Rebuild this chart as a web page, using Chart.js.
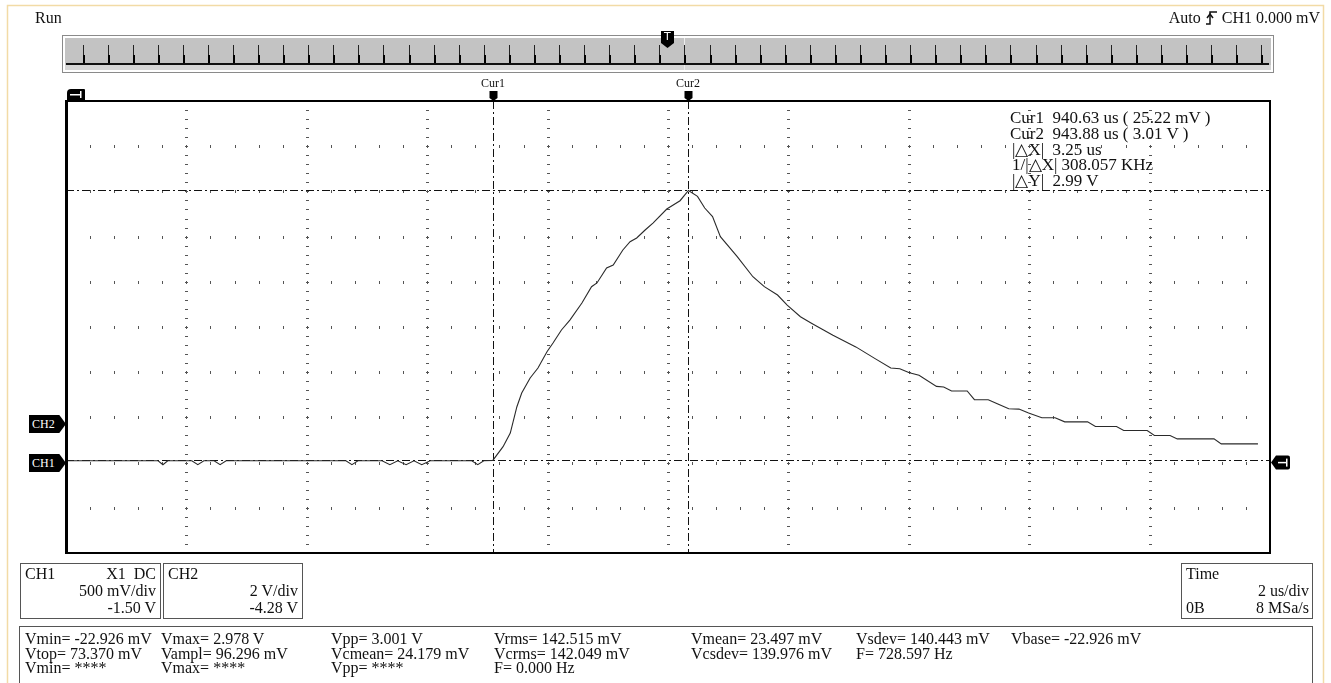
<!DOCTYPE html>
<html><head><meta charset="utf-8">
<script src="https://cdn.jsdelivr.net/npm/chart.js@4.4.0/dist/chart.umd.min.js"></script>
<style>
body{margin:0;background:#fff;}
#wrap{position:relative;width:1331px;height:683px;overflow:hidden;font-family:"Liberation Serif","Times New Roman",serif;color:#111;}
#c{position:absolute;left:0;top:0;}
.t{position:absolute;white-space:pre;font-size:16px;line-height:16px;z-index:2;}
.r{font-size:17px;}
.s{font-size:12px;line-height:12px;}
.box{position:absolute;border:1px solid #555;box-sizing:border-box;z-index:2;background:transparent;}
.tag{position:absolute;z-index:2;background:#000;color:#fff;font-size:12px;line-height:18px;height:18px;width:37px;padding-left:3px;box-sizing:border-box;clip-path:polygon(0 0,82% 0,100% 50%,82% 100%,0 100%);}
</style></head>
<body>
<div id="wrap">
<canvas id="c" width="1331" height="683"></canvas>
<div class="t" style="left:35px;top:10px;">Run</div>
<div class="t" style="right:11px;top:10px;">Auto <svg width="13" height="15" viewBox="0 0 13 15" style="vertical-align:-2px"><path d="M1 14 H5 V2 H12" fill="none" stroke="#111" stroke-width="1.5"/><path d="M2 8 L5 4 L8 8" fill="none" stroke="#111" stroke-width="1.5"/></svg> CH1 0.000 mV</div>
<div class="t" style="left:664px;top:31px;color:#fff;font-family:'DejaVu Sans',sans-serif;font-size:11px;line-height:12px;">T</div>
<div class="t s" style="left:493px;top:77px;transform:translateX(-50%);">Cur1</div>
<div class="t s" style="left:688px;top:77px;transform:translateX(-50%);">Cur2</div>
<div class="t r" style="left:1010px;top:110px;">Cur1  940.63 us ( 25.22 mV )</div>
<div class="t r" style="left:1010px;top:126px;">Cur2  943.88 us ( 3.01 V )</div>
<div class="t r" style="left:1012px;top:142px;">|△X|  3.25 us</div>
<div class="t r" style="left:1012px;top:157px;">1/|△X| 308.057 KHz</div>
<div class="t r" style="left:1012px;top:173px;">|△Y|  2.99 V</div>
<div class="tag" style="left:29px;top:415px;">CH2</div>
<div class="tag" style="left:29px;top:454px;">CH1</div>

<div class="box" style="left:20px;top:563px;width:141px;height:56px;">
 <div class="t" style="left:4px;top:2px;">CH1</div>
 <div class="t" style="right:4px;top:2px;">X1  DC</div>
 <div class="t" style="right:4px;top:19px;">500 mV/div</div>
 <div class="t" style="right:4px;top:36px;">-1.50 V</div>
</div>
<div class="box" style="left:163px;top:563px;width:140px;height:56px;">
 <div class="t" style="left:4px;top:2px;">CH2</div>
 <div class="t" style="right:4px;top:19px;">2 V/div</div>
 <div class="t" style="right:4px;top:36px;">-4.28 V</div>
</div>
<div class="box" style="left:1181px;top:563px;width:132px;height:56px;">
 <div class="t" style="left:4px;top:2px;">Time</div>
 <div class="t" style="right:3px;top:19px;">2 us/div</div>
 <div class="t" style="left:4px;top:36px;">0B</div>
 <div class="t" style="right:3px;top:36px;">8 MSa/s</div>
</div>
<div class="box" id="meas" style="left:19px;top:626px;width:1294px;height:80px;"></div>
</div>
<script>
// ---- data ----
const timeUs = [933.54,935.07,935.15,935.23,935.63,935.73,935.83,936.00,936.10,936.20,938.19,938.29,938.39,938.79,938.92,939.05,939.19,939.32,939.45,939.59,939.72,940.28,940.38,940.48,940.63,
 940.80,940.92,941.03,941.11,941.25,941.38,941.53,941.63,941.77,941.91,942.11,942.27,942.36,942.52,942.63,942.79,942.91,943.02,943.16,943.29,943.52,943.74,943.88,
 944.03,944.15,944.28,944.41,944.69,944.95,945.14,945.36,945.52,945.74,945.93,946.28,946.66,946.98,947.24,947.39,947.55,947.71,948.00,948.12,948.25,948.51,948.63,948.86,949.01,949.20,949.37,949.53,949.75,949.97,950.13,950.51,950.64,950.99,951.11,951.50,951.62,951.88,952.00,952.61,952.73,953.34];
const ch1Volts = [0.02,0.02,-0.023,0.02,0.02,-0.023,0.02,0.02,-0.023,0.02,0.02,-0.023,0.02,0.02,-0.023,0.02,-0.023,0.02,-0.023,0.02,0.02,0.02,-0.023,0.02,0.025,
 0.176,0.327,0.618,0.770,0.936,1.046,1.227,1.323,1.467,1.577,1.765,1.946,1.987,2.153,2.186,2.352,2.444,2.485,2.573,2.650,2.805,2.897,3.010,
 2.945,2.816,2.722,2.500,2.279,2.056,1.946,1.854,1.742,1.613,1.539,1.409,1.280,1.150,1.046,1.039,0.994,0.966,0.843,0.836,0.792,0.792,0.696,0.696,0.650,0.595,0.592,0.549,0.496,0.496,0.451,0.451,0.399,0.399,0.355,0.355,0.300,0.300,0.262,0.262,0.207,0.207];
const cursorTimes = [940.63, 943.88];
const cursorLevels = [0.02522, 3.01];
const triggerLevel = 0;
const xMin = 933.54, xDivUs = 2, xDivs = 10;
const yMin = -1.0, yDivV = 0.5, yDivs = 10;
const overviewTicks = 48;
const measRow1 = ["Vmin= -22.926 mV","Vmax= 2.978 V","Vpp= 3.001 V","Vrms= 142.515 mV","Vmean= 23.497 mV","Vsdev= 140.443 mV","Vbase= -22.926 mV"];
const measRow2 = ["Vtop= 73.370 mV","Vampl= 96.296 mV","Vcmean= 24.179 mV","Vcrms= 142.049 mV","Vcsdev= 139.976 mV","F= 728.597 Hz"];
const measRow3 = ["Vmin= ****","Vmax= ****","Vpp= ****","F= 0.000 Hz"];

// measurement text
const colX = [5,141,311,474,671,836,991];
const meas = document.getElementById('meas');
[measRow1,measRow2,measRow3].forEach((row,r)=>{
  row.forEach((txt,i)=>{
    const d=document.createElement('div'); d.className='t';
    d.style.left=colX[i]+'px'; d.style.top=(4+r*14.5)+'px'; d.textContent=txt; meas.appendChild(d);
  });
});

const scopePlugin = {
  id:'scope',
  beforeDraw(chart){
    const ctx=chart.ctx; ctx.save();
    ctx.fillStyle='#fff'; ctx.fillRect(0,0,chart.width,chart.height);
    ctx.strokeStyle='#f2dba6'; ctx.lineWidth=1.5; ctx.strokeRect(7.5,5.5,1316,700);
    // overview bar
    ctx.fillStyle='#ffffff'; ctx.fillRect(62,35,1212,38);
    ctx.strokeStyle='#8a8a8a'; ctx.lineWidth=1; ctx.strokeRect(62.5,35.5,1211,37);
    ctx.fillStyle='#c3c3c3'; ctx.fillRect(65,38,1206,32);
    ctx.fillStyle='#d6d6d6'; ctx.fillRect(65,65,1206,5);
    ctx.fillStyle='#ececec'; ctx.fillRect(684,38,1,32);
    ctx.fillStyle='#111'; ctx.fillRect(66,63,1203,2);
    for(let k=0;k<overviewTicks;k++){
      const x=Math.round(82.5+k*25.08);
      ctx.fillStyle='#222'; ctx.fillRect(x,45,1,18);
      ctx.fillStyle='#000'; ctx.fillRect(x,55,2,8);
    }
    // trigger position marker
    ctx.fillStyle='#000'; ctx.beginPath();
    ctx.moveTo(661,31); ctx.lineTo(674,31); ctx.lineTo(674,43); ctx.lineTo(667.5,48); ctx.lineTo(661,43); ctx.closePath(); ctx.fill();
    ctx.restore();
  },
  beforeDatasetsDraw(chart){
    const ctx=chart.ctx, xs=chart.scales.x, ys=chart.scales.y, a=chart.chartArea;
    ctx.save();
    ctx.fillStyle='#555';
    for(let i=1;i<xDivs;i++){
      const px=Math.round(xs.getPixelForValue(xMin+i*xDivUs));
      for(let j=1;j<yDivs*5;j++){
        const py=Math.round(ys.getPixelForValue(yMin+j*yDivV/5));
        ctx.fillRect(px-1,py,3,1);
      }
    }
    for(let j=1;j<yDivs;j++){
      const py=Math.round(ys.getPixelForValue(yMin+j*yDivV));
      for(let i=1;i<xDivs*5;i++){
        const px=Math.round(xs.getPixelForValue(xMin+i*xDivUs/5));
        ctx.fillRect(px,py-1,1,3);
      }
    }
    ctx.strokeStyle='#111'; ctx.lineWidth=1; ctx.setLineDash([8,3,2,3]);
    cursorTimes.forEach(t=>{
      const px=Math.round(xs.getPixelForValue(t))+0.5;
      ctx.beginPath(); ctx.moveTo(px,a.top); ctx.lineTo(px,a.bottom); ctx.stroke();
    });
    cursorLevels.forEach(v=>{
      const py=Math.round(ys.getPixelForValue(v))+0.5;
      ctx.beginPath(); ctx.moveTo(a.left,py); ctx.lineTo(a.right,py); ctx.stroke();
    });
    ctx.restore();
  },
  afterDatasetsDraw(chart){
    const ctx=chart.ctx, xs=chart.scales.x, ys=chart.scales.y, a=chart.chartArea;
    ctx.save();
    ctx.strokeStyle='#000'; ctx.lineWidth=2;
    ctx.strokeRect(a.left,a.top,a.right-a.left,a.bottom-a.top);
    ctx.fillStyle='#000'; ctx.fillRect(a.left-1,a.top-1,3,a.bottom-a.top+2);
    // horizontal position marker (top-left)
    ctx.beginPath(); ctx.roundRect(67,89,18,12,[4,1,0,0]); ctx.fill();
    ctx.fillStyle='#fff'; ctx.fillRect(70,94,11,1.5); ctx.fillRect(80,91,1.5,7);
    // cursor markers
    ctx.fillStyle='#000';
    cursorTimes.forEach(t=>{
      const px=Math.round(xs.getPixelForValue(t))+0.5;
      ctx.beginPath(); ctx.moveTo(px-4,91); ctx.lineTo(px+4,91); ctx.lineTo(px+4,98); ctx.lineTo(px,101); ctx.lineTo(px-4,98); ctx.closePath(); ctx.fill();
    });
    // trigger level marker (right)
    const ty=ys.getPixelForValue(triggerLevel);
    ctx.beginPath(); ctx.moveTo(a.right+1,ty); ctx.lineTo(a.right+6,ty-7); ctx.lineTo(a.right+18,ty-7);
    ctx.quadraticCurveTo(a.right+20,ty-7,a.right+20,ty-5); ctx.lineTo(a.right+20,ty+5);
    ctx.quadraticCurveTo(a.right+20,ty+7,a.right+18,ty+7); ctx.lineTo(a.right+6,ty+7); ctx.closePath(); ctx.fill();
    ctx.fillStyle='#fff'; ctx.fillRect(a.right+8,ty-0.75,9,1.5); ctx.fillRect(a.right+16,ty-4,1.5,8);
    ctx.restore();
  }
};

new Chart(document.getElementById('c'),{
  type:'line',
  data:{datasets:[{
    data: timeUs.map((t,i)=>({x:t,y:ch1Volts[i]})),
    borderColor:'#2a2a2a', borderWidth:1.1, pointRadius:0, tension:0, fill:false
  }]},
  options:{
    responsive:false, animation:false, devicePixelRatio:1, events:[],
    layout:{padding:{left:66,top:101,right:61,bottom:130}},
    plugins:{legend:{display:false},tooltip:{enabled:false},title:{display:false}},
    scales:{
      x:{type:'linear',display:false,min:xMin,max:xMin+xDivUs*xDivs},
      y:{type:'linear',display:false,min:yMin,max:yMin+yDivV*yDivs}
    }
  },
  plugins:[scopePlugin]
});
</script>
</body></html>
